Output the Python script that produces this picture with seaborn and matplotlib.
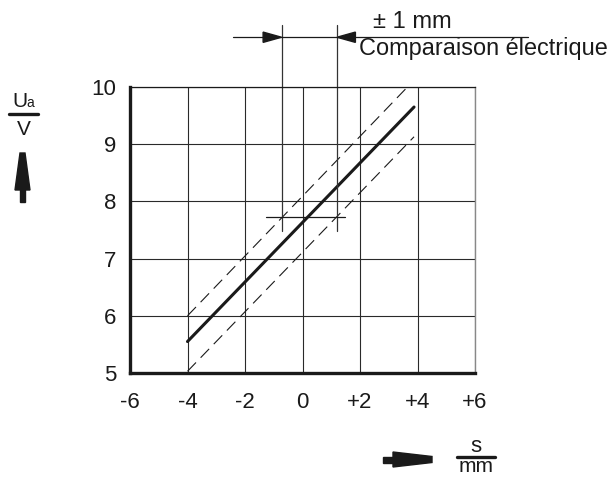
import matplotlib
matplotlib.use("Agg")
import matplotlib.pyplot as plt
from matplotlib.patches import Polygon
import seaborn as sns
import numpy as np

# ---- data ----
s_line = [-4.0, 3.88]          # mm
ua_line = [5.55, 9.65]         # V
ua_upper = [6.0, 10.12]        # V (tolerance band, upper)
ua_lower = [5.03, 9.13]        # V (tolerance band, lower)
x_ticks = [-6, -4, -2, 0, 2, 4, 6]
x_ticklabels = ["-6", "-4", "-2", "0", "+2", "+4", "+6"]
y_ticks = [5, 6, 7, 8, 9, 10]
y_ticklabels = ["5", "6", "7", "8", "9", "10"]
tol_left, tol_right = -0.73, 1.2   # s positions of ±1 mm marks
tol_level = 7.72                   # Ua level of comparison

sns.set_theme(style="white")
plt.rcParams['font.family'] = ['Liberation Sans', 'DejaVu Sans']

W, H = 611, 478
fig = plt.figure(figsize=(W / 100, H / 100), dpi=100)
ax = fig.add_axes([130 / W, 1 - 373 / H, 345 / W, 286 / H])

ink = "#1a1a1a"
sns.lineplot(x=s_line, y=ua_line, ax=ax, color=ink, lw=2.2)
sns.lineplot(x=s_line, y=ua_upper, ax=ax, color=ink, lw=0.8)
sns.lineplot(x=s_line, y=ua_lower, ax=ax, color=ink, lw=0.8)
for ln in ax.lines[1:]:
    ln.set_linestyle((0, (11, 6)))

ax.set_xlim(-6, 6)
ax.set_ylim(5, 10)
ax.set_xticks(x_ticks)
ax.set_xticklabels(x_ticklabels)
ax.set_yticks(y_ticks)
ax.set_yticklabels(y_ticklabels)
ax.tick_params(axis='x', length=0, pad=14, labelsize=16, colors=ink)
ax.tick_params(axis='y', length=0, pad=10, labelsize=16, colors=ink)
ax.grid(True, color="#2a2a2a", lw=0.8)
ax.set_axisbelow(True)
for side in ["left", "bottom"]:
    ax.spines[side].set_color(ink)
    ax.spines[side].set_linewidth(2.4)
ax.spines["top"].set_color(ink)
ax.spines["top"].set_linewidth(0.9)
ax.spines["right"].set_color("#888888")
ax.spines["right"].set_linewidth(1.0)
ax.set_xlabel("")
ax.set_ylabel("")

# ---- tolerance annotation (data coords, outside axes) ----
y_top = 11.08
y_arrow = 10.87
for xv in (tol_left, tol_right):
    ax.plot([xv, xv], [7.49, y_top], color="#333333", lw=0.9, clip_on=False)
ax.plot([-1.26, 1.49], [tol_level, tol_level], color=ink, lw=0.9, clip_on=False)
ax.plot([-2.42, 7.84], [y_arrow, y_arrow], color=ink, lw=0.9, clip_on=False)
hh = 0.09
ax.add_patch(Polygon([[tol_left, y_arrow], [tol_left - 0.64, y_arrow + hh],
                      [tol_left - 0.64, y_arrow - hh]], closed=True,
                     color=ink, clip_on=False))
ax.add_patch(Polygon([[tol_right, y_arrow], [tol_right + 0.64, y_arrow + hh],
                      [tol_right + 0.64, y_arrow - hh]], closed=True,
                     color=ink, clip_on=False))

def fx(px):
    return px / W

def fy(py):
    return 1 - py / H

fig.text(fx(412), fy(28), "± 1 mm", ha="center", va="baseline",
         fontsize=17, color=ink)
fig.text(fx(359), fy(55), "Comparaison électrique", ha="left", va="baseline",
         fontsize=16.9, color=ink)

# ---- y axis label Ua / V with arrow ----
fig.text(fx(12), fy(107), "U", ha="left", va="baseline", fontsize=15, color=ink)
fig.text(fx(26), fy(107), "a", ha="left", va="baseline", fontsize=10, color=ink)
fig.add_artist(plt.Line2D([fx(9), fx(38)], [fy(114), fy(114)], color=ink,
                          lw=2.4, transform=fig.transFigure))
fig.text(fx(23.5), fy(135), "V", ha="center", va="baseline", fontsize=15, color=ink)
fig.add_artist(Polygon([[fx(20), fy(153)], [fx(25), fy(153)], [fx(30), fy(190)],
                        [fx(15), fy(190)]], closed=True, color=ink,
                       transform=fig.transFigure))
fig.add_artist(Polygon([[fx(20), fy(189)], [fx(25), fy(189)], [fx(25), fy(202)],
                        [fx(20), fy(202)]], closed=True, color=ink,
                       transform=fig.transFigure))

# ---- x axis label s / mm with arrow ----
fig.add_artist(Polygon([[fx(393), fy(452)], [fx(432), fy(456.5)], [fx(432), fy(462.5)],
                        [fx(393), fy(467)]], closed=True, color=ink,
                       transform=fig.transFigure))
fig.add_artist(Polygon([[fx(383), fy(457)], [fx(394), fy(457)], [fx(394), fy(463)],
                        [fx(383), fy(463)]], closed=True, color=ink,
                       transform=fig.transFigure))
fig.text(fx(476), fy(451.5), "s", ha="center", va="baseline", fontsize=16, color=ink)
fig.add_artist(plt.Line2D([fx(457), fx(495)], [fy(457), fy(457)], color=ink,
                          lw=2.4, transform=fig.transFigure))
fig.text(fx(476), fy(472.5), "mm", ha="center", va="baseline", fontsize=15, color=ink)

fig.savefig("out.png", dpi=100, facecolor="white")
